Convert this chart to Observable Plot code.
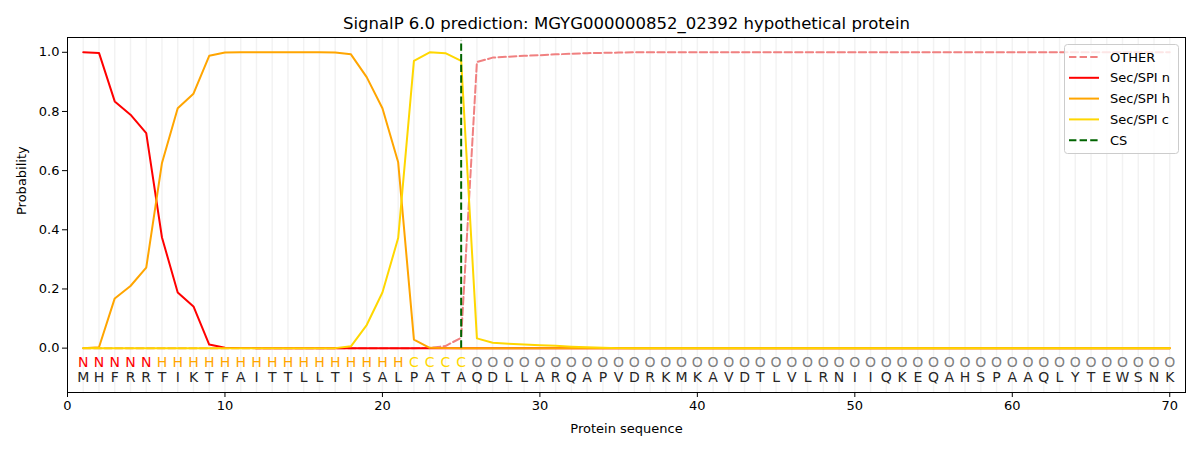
<!DOCTYPE html>
<html><head><meta charset="utf-8">
<script src="https://cdn.jsdelivr.net/npm/d3@7"></script>
<script src="https://cdn.jsdelivr.net/npm/@observablehq/plot@0.6"></script>
<style>
body{margin:0;background:#fff;font-family:"DejaVu Sans",sans-serif}
#wrap{position:relative;width:1200px;height:450px}
#legend{position:absolute;left:1064px;top:44px}
</style></head><body><div id="wrap"></div>
<script>
const title = "SignalP 6.0 prediction: MGYG000000852_02392 hypothetical protein";
const sequence = "MHFRRTIKTFAITTLLTISALPATAQDLLARQAPVDRKMKAVDTLVLRNIIQKEQAHSPAAQLYTEWSNK";
const regionLabels = "NNNNNHHHHHHHHHHHHHHHHCCCCOOOOOOOOOOOOOOOOOOOOOOOOOOOOOOOOOOOOOOOOOOOOO";
const xTicks = [0,10,20,30,40,50,60,70];
const yTicks = [0,0.2,0.4,0.6,0.8,1.0];
const csPosition = 25;

const otherP = [0,0,0,0,0,0,0,0,0,0, 0,0,0,0,0,0,0,0,0,0, 0,0,0.001,0.007,0.035,0.967,0.982,0.985,0.988,0.99,
  0.993,0.995,0.997,0.998,0.999,1,1,1,1,1, 1,1,1,1,1,1,1,1,1,1, 1,1,1,1,1,1,1,1,1,1, 1,1,1,1,1,1,1,1,1,1];
const secN = [1.0,0.998,0.834,0.789,0.727,0.374,0.188,0.141,0.012,0.001, 0,0,0,0,0,0,0,0,0,0,
  0,0,0,0,0,0,0,0,0,0, 0,0,0,0,0,0,0,0,0,0, 0,0,0,0,0,0,0,0,0,0, 0,0,0,0,0,0,0,0,0,0, 0,0,0,0,0,0,0,0,0,0];
const secH = [0,0.003,0.168,0.21,0.272,0.626,0.811,0.86,0.988,0.999, 1,1,1,1,1,1,0.999,0.993,0.916,0.811,
  0.628,0.029,0.001,0,0,0,0,0,0,0, 0,0,0,0,0,0,0,0,0,0, 0,0,0,0,0,0,0,0,0,0, 0,0,0,0,0,0,0,0,0,0, 0,0,0,0,0,0,0,0,0,0];
const secC = [0,0,0,0,0,0,0,0,0,0, 0,0,0,0,0,0,0,0.006,0.078,0.188, 0.372,0.971,1.0,0.997,0.971,0.033,0.018,0.015,0.012,0.010,
  0.008,0.005,0.003,0.001,0,0,0,0,0,0, 0,0,0,0,0,0,0,0,0,0, 0,0,0,0,0,0,0,0,0,0, 0,0,0,0,0,0,0,0,0,0];

const rows = Array.from(sequence, (aa, i) => ({
  pos: i + 1, aa, lab: regionLabels[i],
  other: otherP[i], n: secN[i], h: secH[i], c: secC[i]
}));

const series = [
  {key:"other", name:"OTHER", color:"#F08080", dash:"7.4,3.2"},
  {key:"n", name:"Sec/SPI n", color:"#FF0000", dash:null},
  {key:"h", name:"Sec/SPI h", color:"#FFA500", dash:null},
  {key:"c", name:"Sec/SPI c", color:"#FFD700", dash:null}
];
const labelColors = {N:"#FF0000", H:"#FFA500", C:"#FFD700", O:"#808080"};

const font = "DejaVu Sans, sans-serif";
const chart = Plot.plot({
  width: 1200, height: 450,
  marginLeft: 67, marginRight: 15, marginTop: 37, marginBottom: 58,
  style: {fontFamily: font, fontSize: "13px", background: "white", color: "#000", overflow: "visible"},
  x: {domain: [0, 71]},
  y: {domain: [-0.15, 1.05]},
  marks: [
    Plot.ruleX(rows, {x: "pos", stroke: "#000", strokeOpacity: 0.05, strokeWidth: 1.5}),
    ...series.map(s => Plot.line(rows, {x: "pos", y: s.key, stroke: s.color, strokeWidth: 2,
      strokeDasharray: s.dash || undefined})),
    Plot.ruleX([csPosition], {y1: 0, y2: 1.04, stroke: "#006400", strokeWidth: 2, strokeDasharray: "7.4,3.2"}),
    ...Object.entries(labelColors).map(([k, col]) =>
      Plot.text(rows.filter(d => d.lab === k), {x: "pos", y: -0.05, text: "lab", fill: col, fontSize: 14, lineAnchor: "middle"})),
    Plot.text(rows, {x: "pos", y: -0.1, text: "aa", fill: "#262626", fontSize: 14, lineAnchor: "middle"}),
    Plot.frame({stroke: "#000", strokeWidth: 1}),
    Plot.axisX(xTicks, {tickSize: 5, tickPadding: 3, label: null, fontSize: 13}),
    Plot.axisY(yTicks, {tickSize: 5, tickPadding: 3, label: null, tickFormat: d3.format(".1f"), fontSize: 13}),
    Plot.text([title], {frameAnchor: "top", dy: -14, lineAnchor: "middle", fontSize: 16.5, fill: "#000"}),
    Plot.text(["Protein sequence"], {frameAnchor: "bottom", dy: 36, lineAnchor: "middle", fontSize: 13, fill: "#000"}),
    Plot.text(["Probability"], {frameAnchor: "left", dx: -46, rotate: -90, fontSize: 13, fill: "#000"})
  ]
});
document.getElementById("wrap").appendChild(chart);

// legend
const lg = d3.select("#wrap").append("svg").attr("id", "legend").attr("width", 116).attr("height", 112);
lg.append("rect").attr("x", 0.5).attr("y", 0.5).attr("width", 114).attr("height", 109).attr("rx", 3)
  .attr("fill", "rgba(255,255,255,0.8)").attr("stroke", "#cccccc");
const legendItems = [...series, {name: "CS", color: "#006400", dash: "7.4,3.2"}];
legendItems.forEach((s, i) => {
  const y = 13 + i * 20.8;
  lg.append("line").attr("x1", 5).attr("x2", 35).attr("y1", y).attr("y2", y)
    .attr("stroke", s.color).attr("stroke-width", 2).attr("stroke-dasharray", s.dash || null);
  lg.append("text").attr("x", 46).attr("y", y).attr("dy", "0.35em").attr("font-size", 13)
    .attr("font-family", font).attr("fill", "#000").text(s.name);
});
</script></body></html>
